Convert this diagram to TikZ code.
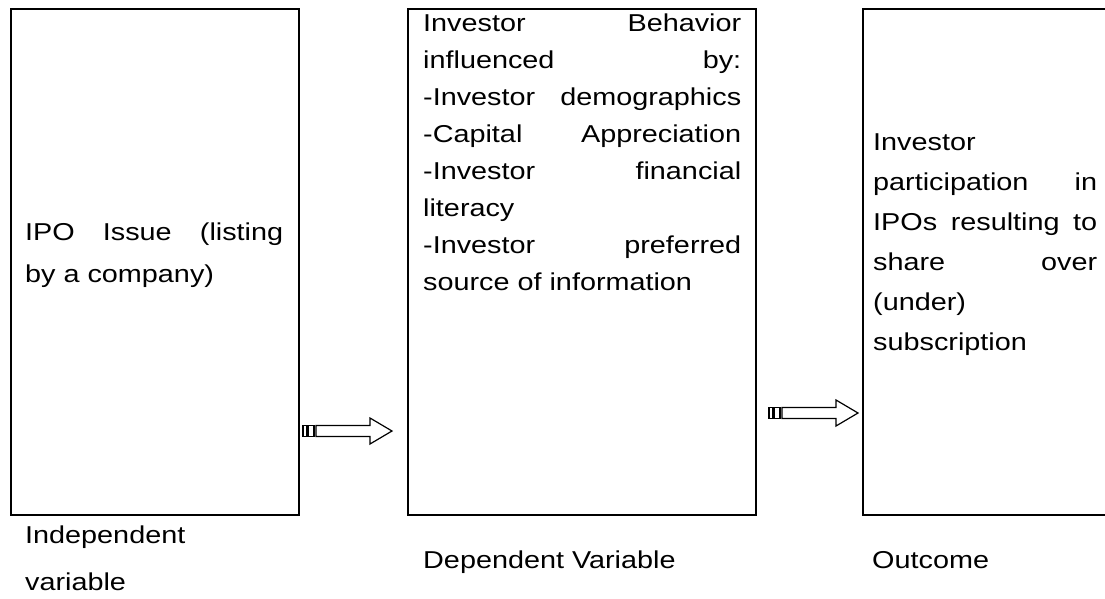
\documentclass[tikz,border=0pt]{standalone}
\usepackage{fontspec}
\usepackage{graphicx}
\setmainfont{Liberation Sans}
\newcommand\sx[1]{\scalebox{1.18}[1]{#1}}
\newcommand\jl[2]{\scalebox{1.18}[1]{\makebox[#1pt][s]{#2}}}
\tikzset{
  box/.style={draw=black, line width=2pt, anchor=north west, inner sep=0pt},
  txt/.style={anchor=base west, inner sep=0pt, font=\fontsize{24.4}{30}\selectfont},
  pics/stripedarrow/.style={code={
    \draw[line width=1.3pt, fill=white] (0,-5.5) rectangle (3.5,5.5);
    \draw[line width=1.3pt, fill=white] (5,-5.5) rectangle (11,5.5);
    \draw[line width=1.2pt, fill=white, line join=miter]
      (13,-5.5) -- (67,-5.5) -- (67,-13) -- (89,0) -- (67,13) -- (67,5.5) -- (13,5.5) -- cycle;
  }}
}
\begin{document}
\begin{tikzpicture}[x=1pt, y=-1pt]
\useasboundingbox (0,0) rectangle (1105,598);
% boxes
\node[box, minimum width=288pt, minimum height=506pt] (b1) at (10,8) {};
\node[box, minimum width=348pt, minimum height=506pt] (b2) at (407,8) {};
\node[box, minimum width=260pt, minimum height=506pt] (b3) at (862,8) {};
% box 1 text
\node[txt] (t11) at (25,240) {\jl{218.6}{IPO Issue (listing}};
\node[txt] (t12) at (25,282) {\sx{by a company)}};
% box 2 text
\node[txt] (t21) at (423,31)  {\jl{269.5}{Investor Behavior}};
\node[txt] (t22) at (423,68)  {\jl{269.5}{influenced by:}};
\node[txt] (t23) at (423,105) {\jl{269.5}{-Investor demographics}};
\node[txt] (t24) at (423,142) {\jl{269.5}{-Capital Appreciation}};
\node[txt] (t25) at (423,179) {\jl{269.5}{-Investor financial}};
\node[txt] (t26) at (423,216) {\sx{literacy}};
\node[txt] (t27) at (423,253) {\jl{269.5}{-Investor preferred}};
\node[txt] (t28) at (423,290) {\sx{source of information}};
% box 3 text
\node[txt] (t31) at (873,150) {\sx{Investor}};
\node[txt] (t32) at (873,190) {\jl{189.8}{participation in}};
\node[txt] (t33) at (873,230) {\jl{189.8}{IPOs resulting to}};
\node[txt] (t34) at (873,270) {\jl{189.8}{share over}};
\node[txt] (t35) at (873,310) {\sx{(under)}};
\node[txt] (t36) at (873,350) {\sx{subscription}};
% labels
\node[txt] (l1a) at (25,543) {\sx{Independent}};
\node[txt] (l1b) at (25,590) {\sx{variable}};
\node[txt] (l2) at (423,568) {\sx{Dependent Variable}};
\node[txt] (l3) at (872,568) {\sx{Outcome}};
% arrows
\coordinate (a1) at (303,431);
\coordinate (a2) at (769,413);
\pic at (a1) {stripedarrow};
\pic at (a2) {stripedarrow};
\end{tikzpicture}
\end{document}
